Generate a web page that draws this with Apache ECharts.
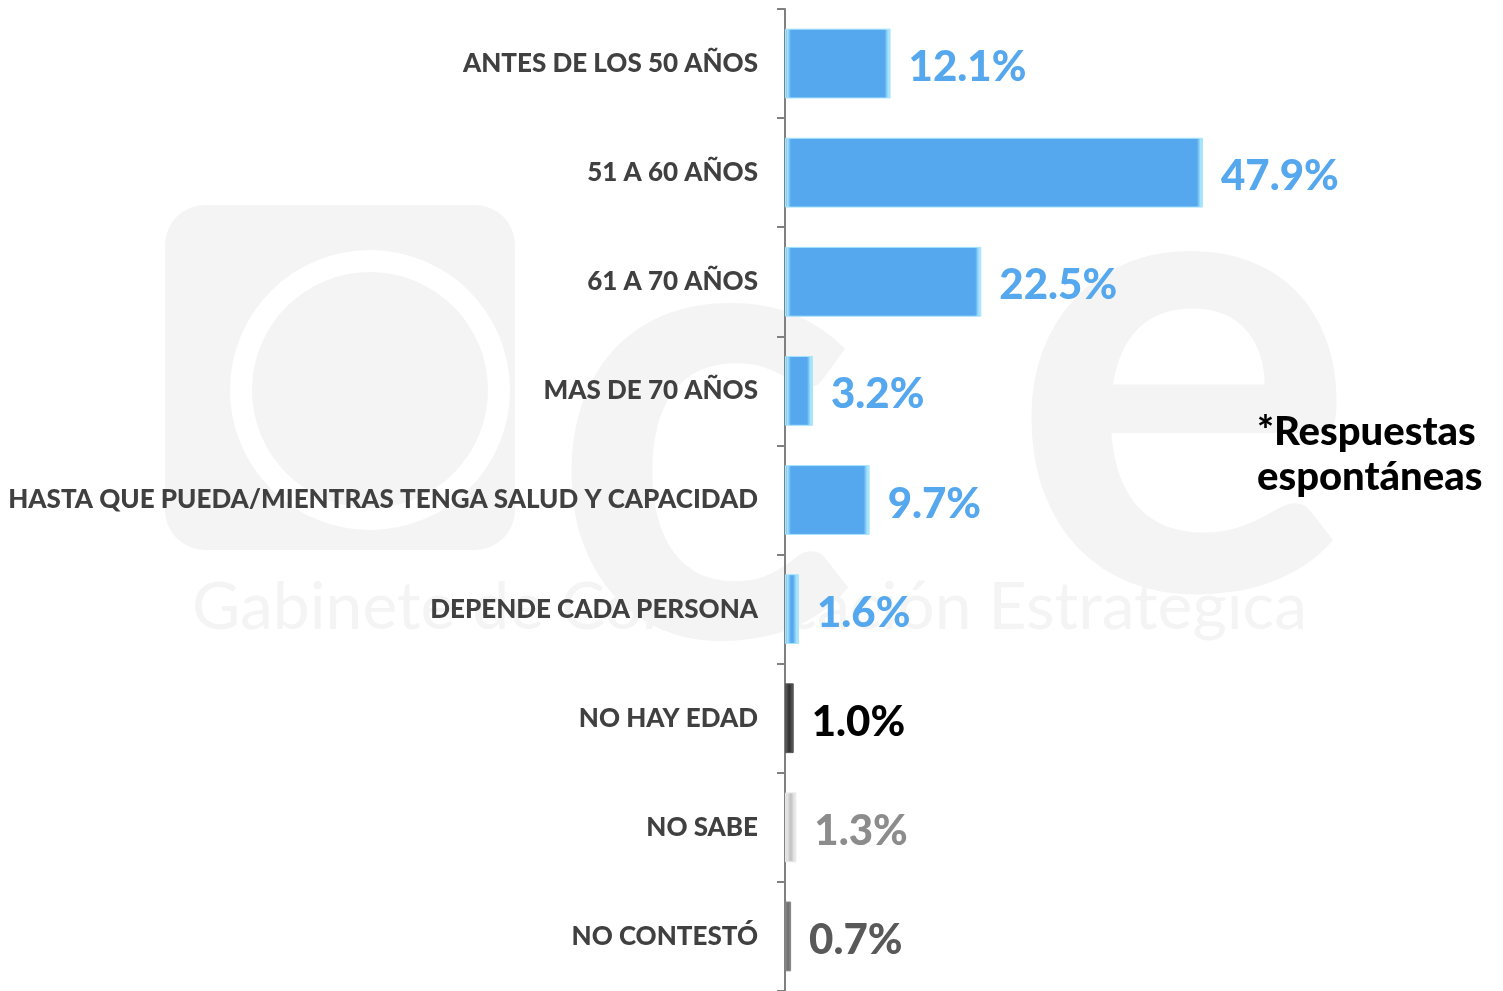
<!DOCTYPE html>
<html>
<head>
<meta charset="utf-8">
<title>Edad de retiro</title>
<script src="https://cdn.jsdelivr.net/npm/echarts@6/dist/echarts.min.js"></script>
<style>
  html, body { margin: 0; padding: 0; background: #fff; }
  #chart { width: 1503px; height: 991px; }
</style>
</head>
<body>
<div id="chart"></div>
<script>
// categorias y porcentajes
const categories = [
  "ANTES DE LOS 50 AÑOS",
  "51 A 60 AÑOS",
  "61 A 70 AÑOS",
  "MAS DE 70 AÑOS",
  "HASTA QUE PUEDA/MIENTRAS TENGA SALUD Y CAPACIDAD",
  "DEPENDE CADA PERSONA",
  "NO HAY EDAD",
  "NO SABE",
  "NO CONTESTÓ"
];
const values = [12.1, 47.9, 22.5, 3.2, 9.7, 1.6, 1.0, 1.3, 0.7];

// colores por barra (relleno, bisel claro, etiqueta)
const blue = ["#55a7ee", "#a6e4fc", "#55a7ee"];
const barStyles = [blue, blue, blue, blue, blue, blue,
  ["#333333", "#555555", "#000000"],
  ["#c4c4c4", "#e8e8e8", "#8c8c8c"],
  ["#707070", "#858585", "#595959"]
];

const xMax = 80;
const plotWidth = 698;

const myChart = echarts.init(document.getElementById("chart"));

// bisel en los extremos de la barra (aprox. 6px)
function bevel(c, v) {
  const w = v * plotWidth / xMax;
  const a = Math.min(0.45, 6 / w);
  return {
    type: "linear", x: 0, y: 0, x2: 1, y2: 0,
    colorStops: [
      { offset: 0, color: c[0] },
      { offset: a * 0.4, color: c[1] },
      { offset: a, color: c[0] },
      { offset: 1 - a, color: c[0] },
      { offset: 1 - a * 0.4, color: c[1] },
      { offset: 1, color: c[1] }
    ]
  };
}

const wm = "#f4f4f4"; // marca de agua

myChart.setOption({
  backgroundColor: "#ffffff",
  animation: false,
  grid: { left: 785, top: 9, width: plotWidth, height: 985 },
  xAxis: {
    type: "value",
    min: 0,
    max: xMax,
    show: false
  },
  yAxis: {
    type: "category",
    inverse: true,
    data: categories,
    axisLine: { show: true, lineStyle: { color: "#808080", width: 2 } },
    axisTick: { show: true, length: 8, lineStyle: { color: "#808080", width: 2 } },
    axisLabel: {
      margin: 27,
      color: "#404040",
      fontFamily: "Lato",
      fontWeight: 900,
      fontSize: 26
    }
  },
  graphic: [
    {
      type: "rect", z: -10, silent: true,
      shape: { x: 165, y: 205, width: 350, height: 345, r: 40 },
      style: { fill: wm }
    },
    {
      type: "circle", z: -9, silent: true,
      shape: { cx: 370, cy: 390, r: 140 },
      style: { fill: "#ffffff" }
    },
    {
      type: "circle", z: -8, silent: true,
      shape: { cx: 370, cy: 390, r: 118 },
      style: { fill: wm }
    },
    {
      type: "text", z: -10, silent: true,
      left: 550, top: 110,
      style: { text: "c", fill: wm, font: "bold 640px Lato" }
    },
    {
      type: "text", z: -10, silent: true,
      left: 1010, top: 55,
      style: { text: "e", fill: wm, font: "bold 650px Lato" }
    },
    {
      type: "text", z: -10, silent: true,
      left: 192, top: 575,
      style: { text: "Gabinete de Comunicación Estratégica", fill: wm, font: "66px Lato" }
    },
    {
      type: "text", z: 10,
      left: 1257, top: 410,
      style: {
        text: "*Respuestas\nespontáneas",
        fill: "#000000",
        font: "900 40px Lato",
        lineHeight: 45
      }
    }
  ],
  series: [
    {
      type: "bar",
      barWidth: "64%",
      data: values.map((v, i) => ({
        value: v,
        itemStyle: {
          color: bevel(barStyles[i], v),
          borderColor: barStyles[i][1],
          borderWidth: 1
        },
        label: { color: barStyles[i][2] }
      })),
      label: {
        show: true,
        position: "right",
        distance: 18,
        offset: [0, 4],
        fontFamily: "Lato",
        fontWeight: 900,
        fontSize: 42,
        formatter: p => p.value.toFixed(1) + "%"
      }
    }
  ]
});
</script>
</body>
</html>
